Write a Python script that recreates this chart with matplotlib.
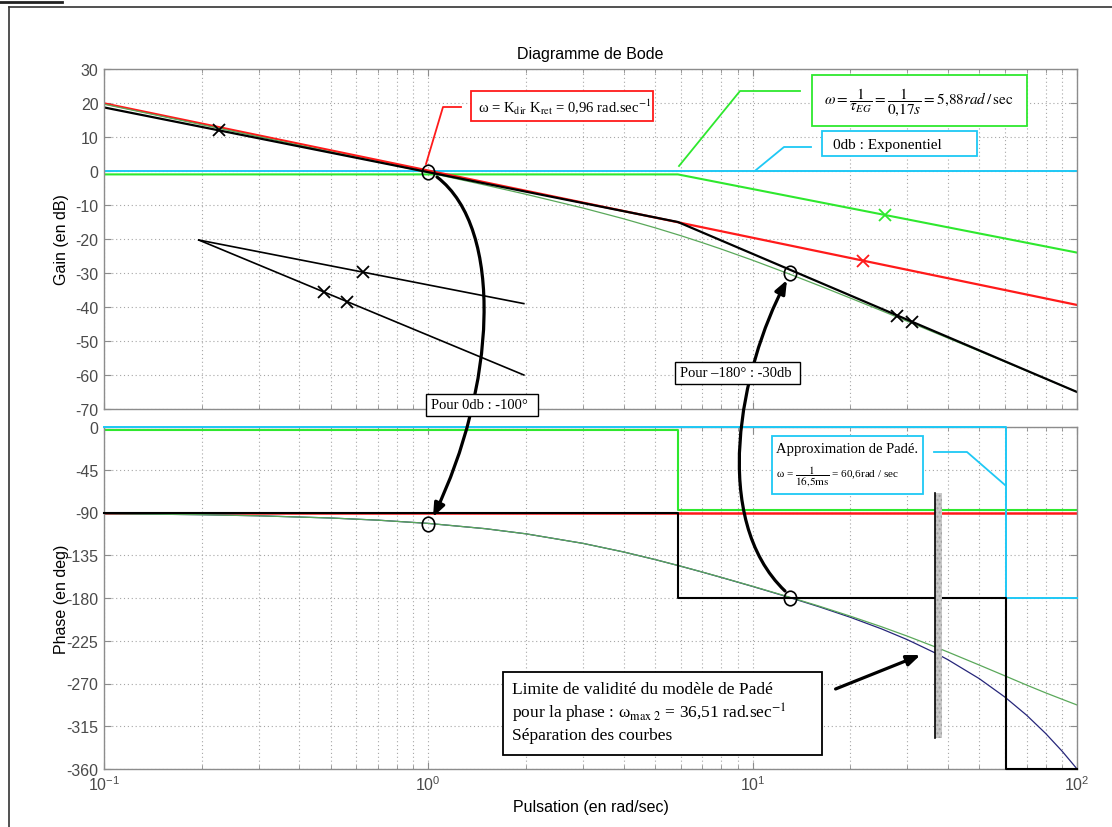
import numpy as np
import matplotlib
matplotlib.use("Agg")
import matplotlib.pyplot as plt
from matplotlib.patches import Rectangle, FancyArrowPatch
from matplotlib.path import Path
from matplotlib.lines import Line2D
from matplotlib.ticker import LogLocator, NullFormatter

plt.rcParams["font.family"] = ["Liberation Sans", "DejaVu Sans"]
plt.rcParams["mathtext.fontset"] = "stix"
plt.rcParams["axes.unicode_minus"] = False

SERIF = ["Liberation Serif", "DejaVu Serif"]
W, H = 1112, 828

# ---- characteristic pulsations (rad/s) ----
w_EG = 5.88      # 1 / tau_EG
w_pade = 60.6    # 1 / 16.5 ms
w_lim = 36.51    # validity limit of the Padé model for the phase

# ---- gain asymptotes (dB) ----
gain_red_w = [0.1, 100]
gain_red = [19.9, -39.4]
gain_black_w = [0.1, w_EG, 100]
gain_black = [18.7, -15.0, -65.0]
gain_green_w = [0.1, w_EG, 100]
gain_green = [-1.0, -1.0, -24.0]
gain_cyan_w = [0.1, 100]
gain_cyan = [0.0, 0.0]

# slope reminders (-20 dB/dec and -40 dB/dec)
slope_w = [0.196, 1.97]
slope_20 = [-20.3, -39.0]
slope_40 = [-20.3, -60.0]

# cross marks on the gain diagram
cross_black_w = [0.226, 27.8, 30.9]
cross_black = [12.1, -42.6, -44.5]
cross_red_w = [21.9]
cross_red = [-26.5]
cross_green_w = [25.6]
cross_green = [-12.9]
cross_slope_w = [0.627, 0.477, 0.56]
cross_slope = [-29.7, -35.6, -38.4]

# ---- real responses ----
w_pts = [0.1, 0.2, 0.3, 0.5, 0.7, 1, 1.5, 2, 3, 4, 5, 6, 7, 8, 10, 13, 16,
         20, 25, 30, 36.5, 40, 50, 60, 70, 80, 90, 100]
gain_real = [19.64, 13.62, 10.09, 5.63, 2.68, -0.48, -4.15, -6.85, -10.90,
             -14.05, -16.70, -19.01, -21.09, -22.96, -26.25, -30.33, -33.68,
             -37.37, -41.11, -44.22, -47.57, -49.14, -52.98, -56.13, -58.80,
             -61.11, -63.15, -64.97]
phase_pade = [-91.16, -92.32, -93.47, -95.78, -98.07, -101.48, -107.05,
              -112.45, -122.52, -131.54, -139.51, -146.49, -152.73, -158.24,
              -167.69, -179.12, -188.47, -199.10, -210.36, -220.18, -231.40,
              -236.87, -250.61, -262.0, -271.7, -279.8, -286.6, -292.6]
phase_delay = [-91.16, -92.32, -93.47, -95.78, -98.07, -101.48, -107.05,
               -112.45, -122.52, -131.55, -139.53, -146.53, -152.79, -158.34,
               -167.86, -179.49, -189.14, -200.28, -212.60, -223.90, -237.77,
               -244.97, -264.96, -284.4, -303.5, -322.5, -341.3, -359.9]

# ---- phase asymptotes (deg) ----
phase_red_w = [0.1, 100]
phase_red = [-90, -90]
phase_black_w = [0.1, w_EG, w_EG, w_pade, w_pade, 100]
phase_black = [-90, -90, -180, -180, -360, -360]
phase_green_w = [0.1, w_EG, w_EG, 100]
phase_green = [-3, -3, -87.5, -87.5]
phase_cyan_w = [0.1, w_pade, w_pade, 100]
phase_cyan = [0, 0, -180, -180]

# highlighted operating points
circ_gain_w = [1.0, 13.0]
circ_gain = [-0.4, -30.0]
circ_phase_w = [1.0, 13.0]
circ_phase = [-102.0, -180.0]

gain_ticks = [30, 20, 10, 0, -10, -20, -30, -40, -50, -60, -70]
phase_ticks = [0, -45, -90, -135, -180, -225, -270, -315, -360]

RED = "#ff1a1a"
GREEN = "#2ee82e"
CYAN = "#1ec8f5"
REAL_GREEN = "#5aa85a"
NAVY = "#26267a"
SPINE = "#8c8c8c"
GRID = "#a6a6a6"

fig = plt.figure(figsize=(W / 100, H / 100), dpi=100)
ax_g = fig.add_axes([104 / W, 1 - 410 / H, 973 / W, 340 / H])
ax_p = fig.add_axes([104 / W, 1 - 770 / H, 973 / W, 342 / H])


def style(ax, ticks):
    ax.set_xscale("log")
    ax.set_xlim(0.1, 100)
    ax.set_ylim(min(ticks), max(ticks))
    ax.set_yticks(ticks)
    ax.xaxis.set_major_locator(LogLocator(base=10, numticks=10))
    ax.xaxis.set_minor_locator(LogLocator(base=10, subs=np.arange(2, 10), numticks=10))
    ax.xaxis.set_minor_formatter(NullFormatter())
    ax.grid(True, which="both", axis="x", ls=(0, (1, 2.5)), color=GRID, lw=0.8)
    ax.grid(True, which="major", axis="y", ls=(0, (1, 2.5)), color=GRID, lw=0.8)
    ax.tick_params(which="both", direction="in", top=True, right=True,
                   color=SPINE, labelcolor="#4a4a4a", labelsize=11.5, pad=4)
    ax.tick_params(which="major", length=5)
    ax.tick_params(which="minor", length=3)
    for s in ax.spines.values():
        s.set_color(SPINE)
        s.set_linewidth(1.0)


style(ax_g, gain_ticks)
style(ax_p, phase_ticks)
ax_g.tick_params(labelbottom=False)

# ---- gain diagram ----
ax_g.plot(gain_cyan_w, gain_cyan, color=CYAN, lw=1.4)
ax_g.plot(gain_green_w, gain_green, color=GREEN, lw=1.5)
ax_g.plot(gain_red_w, gain_red, color=RED, lw=1.6)
ax_g.plot(w_pts, gain_real, color=REAL_GREEN, lw=0.9)
ax_g.plot(gain_black_w, gain_black, color="black", lw=1.6)
ax_g.plot(slope_w, slope_20, color="black", lw=1.2)
ax_g.plot(slope_w, slope_40, color="black", lw=1.2)
xkw = dict(ls="none", marker="x", ms=8, mew=1.3)
ax_g.plot(cross_black_w, cross_black, color="black", **xkw)
ax_g.plot(cross_slope_w, cross_slope, color="black", **xkw)
ax_g.plot(cross_red_w, cross_red, color=RED, **xkw)
ax_g.plot(cross_green_w, cross_green, color=GREEN, **xkw)

ring = Path.unit_circle()
ellipse = Path(ring.vertices * [0.85, 1.0], ring.codes)
okw = dict(ls="none", marker=ellipse, ms=10.5, mfc="none", mec="black", mew=1.2, zorder=6)
ax_g.plot(circ_gain_w, circ_gain, **okw)

ax_g.set_title("Diagramme de Bode", fontsize=11.5, pad=8)
ax_g.set_ylabel("Gain (en dB)", fontsize=11.5)
ax_g.yaxis.set_label_coords(-0.036, 0.5)

# ---- phase diagram ----
ax_p.plot(phase_cyan_w, phase_cyan, color=CYAN, lw=1.4, clip_on=False, zorder=3)
ax_p.plot(phase_green_w, phase_green, color=GREEN, lw=1.5)
ax_p.plot(phase_red_w, phase_red, color=RED, lw=1.8)
ax_p.plot(phase_black_w, phase_black, color="black", lw=1.5, clip_on=False, zorder=3)
ax_p.plot(w_pts, phase_delay, color=NAVY, lw=0.9)
ax_p.plot(w_pts, phase_pade, color=REAL_GREEN, lw=0.9)
ax_p.plot(circ_phase_w, circ_phase, **okw)

# Padé validity limit bar
ax_p.add_patch(Rectangle((w_lim, -327), w_lim * 0.05, 327 - 69.5, fc="#c8c8c8",
                         ec="#a0a0a0", hatch="....", lw=0, zorder=4))
ax_p.plot([w_lim, w_lim], [-69.5, -327], color="black", lw=1.2, zorder=5)

ax_p.set_ylabel("Phase (en deg)", fontsize=11.5)
ax_p.yaxis.set_label_coords(-0.036, 0.5)
ax_p.set_xlabel("Pulsation (en rad/sec)", fontsize=11.5)
ax_p.xaxis.set_label_coords(0.5, -0.088)


# ---- annotations in figure pixel coordinates ----
def fpt(x, y):
    return (x / W, 1 - y / H)


def box(x0, y0, x1, y1, ec, lw=1.3):
    fig.add_artist(Rectangle(fpt(x0, y1), (x1 - x0) / W, (y1 - y0) / H,
                             transform=fig.transFigure, fc="white", ec=ec,
                             lw=lw, zorder=5))


def leader(pts, color):
    fig.add_artist(Line2D([p[0] / W for p in pts], [1 - p[1] / H for p in pts],
                          transform=fig.transFigure, color=color, lw=1.3, zorder=4))


def note(x, y, s, size, ha="left"):
    fig.text(x / W, 1 - y / H, s, fontsize=size, family=SERIF, ha=ha,
             va="center", zorder=6)


arrow_style = "-|>,head_length=0.8,head_width=0.32"

# curved arrows linking the gain and phase readings
curve_a = Path([fpt(437, 178), fpt(505, 230), fpt(495, 390), fpt(433, 518)],
               [Path.MOVETO, Path.CURVE4, Path.CURVE4, Path.CURVE4])
curve_b = Path([fpt(785, 592), fpt(710, 520), fpt(740, 370), fpt(787, 281)],
               [Path.MOVETO, Path.CURVE4, Path.CURVE4, Path.CURVE4])
for cp in (curve_a, curve_b):
    fig.add_artist(FancyArrowPatch(path=cp, arrowstyle=arrow_style, mutation_scale=10,
                                   color="black", lw=2.3, transform=fig.transFigure,
                                   zorder=4))

fig.add_artist(FancyArrowPatch(fpt(833, 691), fpt(923, 655), arrowstyle=arrow_style,
                               mutation_scale=10, color="black", lw=2.3,
                               transform=fig.transFigure, zorder=4))

# crossover pulsation
leader([(461, 108), (443, 108), (426, 165)], RED)
box(471, 92, 653, 122, RED)
note(478, 107, r"ω = K$_{\rm dir}$ K$_{\rm ret}$ = 0,96 rad.sec$^{-1}$", 10.5)

# electrical time constant
leader([(800, 92), (740, 92), (679, 167)], GREEN)
box(812, 76, 1027, 127, GREEN)
note(919, 102, r"$\omega = \dfrac{1}{\tau_{EG}} = \dfrac{1}{0{,}17s} = 5{,}88 rad\,/\,\mathrm{sec}$",
     11, ha="center")

# exponential term
leader([(811, 148), (784, 148), (756, 171)], CYAN)
box(822, 132, 977, 157, CYAN)
note(833, 145, "0db : Exponentiel", 11)

# margins read on the curves
box(426, 395, 538, 417, "black", lw=1.0)
note(431, 406, "Pour 0db : -100°", 10.5)
box(675, 363, 800, 385, "black", lw=1.0)
note(680, 374, "Pour –180° : -30db", 10.5)

# Padé approximation
leader([(934, 453), (967, 453), (1005, 486)], CYAN)
box(772, 437, 923, 495, CYAN)
note(776, 450, "Approximation de Padé.", 10.5)
note(776, 477, r"ω = $\dfrac{1}{16{,}5\mathrm{ms}}$ = 60,6rad / sec", 8)

# validity limit
box(503, 673, 822, 756, "black", lw=1.3)
note(512, 690, "Limite de validité du modèle de Padé", 12.5)
note(512, 713, r"pour la phase : ω$_{\rm max\ 2}$ = 36,51 rad.sec$^{-1}$", 12.5)
note(512, 736, "Séparation des courbes", 12.5)

# page frame
fig.add_artist(Line2D([0, 62 / W], [1 - 3 / H] * 2, transform=fig.transFigure,
                      color="#222222", lw=2.0))
fig.add_artist(Line2D([9 / W, 1], [1 - 8 / H] * 2, transform=fig.transFigure,
                      color="#333333", lw=1.2))
fig.add_artist(Line2D([9 / W, 9 / W], [0, 1 - 8 / H], transform=fig.transFigure,
                      color="#333333", lw=1.2))

fig.savefig("out.png", dpi=100)
